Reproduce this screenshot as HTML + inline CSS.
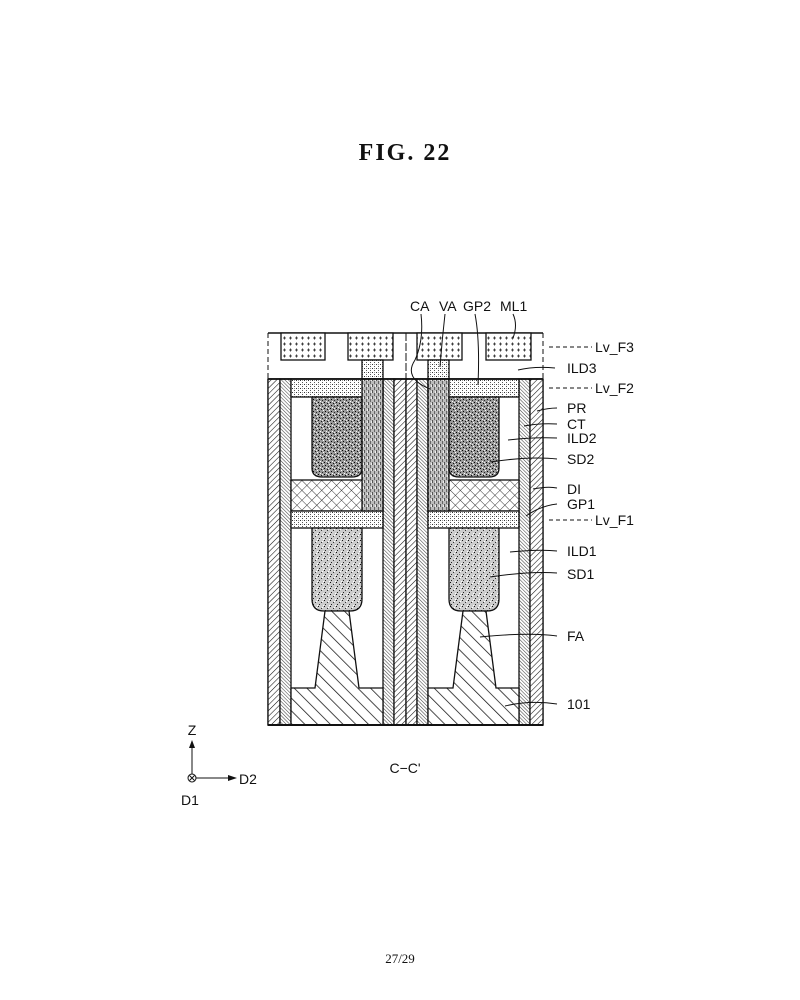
<!DOCTYPE html>
<html><head><meta charset="utf-8"><style>
html,body{margin:0;padding:0;background:#fff}
svg{display:block}
text{font-family:"Liberation Sans",sans-serif;font-size:14px;fill:#111}
</style></head><body>
<svg width="800" height="1000" viewBox="0 0 800 1000" xmlns="http://www.w3.org/2000/svg">
<defs>
<pattern id="hatch" width="4" height="4" patternUnits="userSpaceOnUse" patternTransform="rotate(45)"><rect width="4" height="4" fill="#fff"/><line x1="0" y1="0" x2="0" y2="4" stroke="#111" stroke-width="1.1"/></pattern>
<pattern id="fine" width="2.5" height="2.5" patternUnits="userSpaceOnUse" patternTransform="rotate(-45)"><rect width="3" height="3" fill="#fff"/><line x1="0" y1="0" x2="0" y2="3" stroke="#444" stroke-width="1.1"/></pattern>
<pattern id="big" width="9" height="9" patternUnits="userSpaceOnUse" patternTransform="rotate(-45)"><rect width="9" height="9" fill="#fff"/><line x1="0" y1="0" x2="0" y2="9" stroke="#111" stroke-width="1.5"/></pattern>
<pattern id="cross" width="7" height="7" patternUnits="userSpaceOnUse" patternTransform="rotate(45)"><rect width="7" height="7" fill="#fff"/><line x1="0" y1="0" x2="0" y2="7" stroke="#222" stroke-width="0.9"/><line x1="0" y1="0" x2="7" y2="0" stroke="#222" stroke-width="0.9"/></pattern>
<pattern id="dots" width="4" height="4" patternUnits="userSpaceOnUse"><rect width="4" height="4" fill="#fff"/><rect x="0" y="0" width="1" height="1" fill="#333"/><rect x="2" y="2" width="1" height="1" fill="#555"/><rect x="2" y="0" width="1" height="1" fill="#999"/></pattern>
<pattern id="plus" width="6" height="6" patternUnits="userSpaceOnUse"><rect width="6" height="6" fill="#fff"/><path d="M1 2h3M2.5 0.5v3" stroke="#222" stroke-width="0.8"/></pattern>
<pattern id="stip" width="6" height="6" patternUnits="userSpaceOnUse"><rect width="6" height="6" fill="#999"/><rect x="0" y="0" width="1" height="1" fill="#000"/><rect x="3" y="1" width="1" height="1" fill="#111"/><rect x="1" y="3" width="1" height="1" fill="#000"/><rect x="4" y="4" width="1" height="1" fill="#222"/><rect x="5" y="2" width="1" height="1" fill="#fff"/><rect x="2" y="5" width="1" height="1" fill="#fff"/><rect x="4" y="0" width="1" height="1" fill="#eee"/></pattern>
<pattern id="stip2" width="6" height="6" patternUnits="userSpaceOnUse"><rect width="6" height="6" fill="#ccc"/><rect x="0" y="0" width="1" height="1" fill="#111"/><rect x="3" y="2" width="1" height="1" fill="#333"/><rect x="1" y="4" width="1" height="1" fill="#222"/><rect x="5" y="5" width="1" height="1" fill="#fff"/><rect x="4" y="1" width="1" height="1" fill="#fff"/></pattern>
<pattern id="via" width="4" height="6" patternUnits="userSpaceOnUse"><rect width="4" height="6" fill="#bbb"/><rect x="0" y="0" width="1" height="3" fill="#555"/><rect x="2" y="3" width="1" height="3" fill="#666"/><rect x="3" y="1" width="1" height="2" fill="#eee"/></pattern>
</defs>

<text x="405" y="160" text-anchor="middle" style="font-family:'Liberation Serif',serif;font-weight:bold;font-size:24px;letter-spacing:2px">FIG.  22</text>

<rect x="268" y="333" width="275" height="46" fill="#fff"/>
<line x1="268" y1="333" x2="543" y2="333" stroke="#111" stroke-width="1.5"/>
<line x1="268" y1="333" x2="268" y2="379" stroke="#111" stroke-dasharray="5,3"/>
<line x1="543" y1="333" x2="543" y2="379" stroke="#111" stroke-dasharray="5,3"/>
<line x1="406" y1="333" x2="406" y2="379" stroke="#111" stroke-dasharray="8,2"/>
<g stroke="#111" stroke-width="1.3">
<rect x="281" y="333" width="44" height="27" fill="url(#plus)"/>
<rect x="348" y="333" width="45" height="27" fill="url(#plus)"/>
<rect x="417" y="333" width="45" height="27" fill="url(#plus)"/>
<rect x="486" y="333" width="45" height="27" fill="url(#plus)"/>
<rect x="362" y="360" width="21" height="19" fill="url(#dots)"/>
<rect x="428" y="360" width="21" height="19" fill="url(#dots)"/>
</g>

<g stroke="#111" stroke-width="1.3">
<rect x="268" y="379" width="275" height="346" fill="#fff"/>
<rect x="268" y="379" width="12" height="346" fill="url(#hatch)"/>
<rect x="280" y="379" width="11" height="346" fill="url(#fine)"/>
<rect x="383" y="379" width="11" height="346" fill="url(#fine)"/>
<rect x="394" y="379" width="12" height="346" fill="url(#hatch)"/>
<rect x="406" y="379" width="11" height="346" fill="url(#hatch)"/>
<rect x="417" y="379" width="11" height="346" fill="url(#fine)"/>
<rect x="519" y="379" width="11" height="346" fill="url(#fine)"/>
<rect x="530" y="379" width="13" height="346" fill="url(#hatch)"/>

<rect x="291" y="379" width="92" height="18" fill="url(#dots)"/>
<rect x="428" y="379" width="91" height="18" fill="url(#dots)"/>
<rect x="291" y="480" width="92" height="31" fill="url(#cross)"/>
<rect x="428" y="480" width="91" height="31" fill="url(#cross)"/>
<rect x="291" y="511" width="92" height="17" fill="url(#dots)"/>
<rect x="428" y="511" width="91" height="17" fill="url(#dots)"/>

<path d="M312 397 H362 V468 Q362 477 352 477 H322 Q312 477 312 468 Z" fill="url(#stip)"/>
<path d="M449 397 H499 V468 Q499 477 489 477 H459 Q449 477 449 468 Z" fill="url(#stip)"/>
<path d="M312 528 H362 V599 Q362 611 350 611 H324 Q312 611 312 599 Z" fill="url(#stip2)"/>
<path d="M449 528 H499 V599 Q499 611 487 611 H461 Q449 611 449 599 Z" fill="url(#stip2)"/>

<path d="M291 688 H315 L325 611 H349 L359 688 H383 V725 H291 Z" fill="url(#big)"/>
<path d="M428 688 H453 L463 611 H486 L496 688 H519 V725 H428 Z" fill="url(#big)"/>

<rect x="362" y="379" width="21" height="132" fill="url(#via)"/>
<rect x="428" y="379" width="21" height="132" fill="url(#via)"/>
</g>
<line x1="268" y1="379" x2="543" y2="379" stroke="#111" stroke-width="1.8"/>
<line x1="268" y1="725" x2="543" y2="725" stroke="#111" stroke-width="2"/>

<text x="410" y="311">CA</text><text x="439" y="311">VA</text><text x="463" y="311">GP2</text><text x="500" y="311">ML1</text>
<g fill="none" stroke="#111" stroke-width="1">
<path d="M421 314 Q424 340 415 360 Q403 378 430 389"/>
<path d="M445 314 Q442 340 440 367"/>
<path d="M475 314 Q480 340 478 385"/>
<path d="M513 314 Q518 325 513 338"/>
<path d="M518 370 Q535 366 555 368"/>
<path d="M537 411 Q548 408 557 408"/>
<path d="M524 426 Q540 423 557 424"/>
<path d="M508 440 Q535 437 557 438"/>
<path d="M490 462 Q530 456 557 459"/>
<path d="M533 489 Q548 486 557 488"/>
<path d="M526 516 Q540 506 557 504"/>
<path d="M510 552 Q540 549 557 551"/>
<path d="M490 577 Q530 571 557 573"/>
<path d="M480 637 Q530 632 557 636"/>
<path d="M505 706 Q530 700 557 704"/>
</g>
<g stroke="#111" stroke-dasharray="4,3">
<line x1="549" y1="347" x2="592" y2="347"/>
<line x1="549" y1="388" x2="592" y2="388"/>
<line x1="549" y1="520" x2="592" y2="520"/>
</g>
<text x="595" y="352">Lv_F3</text>
<text x="567" y="373">ILD3</text>
<text x="595" y="393">Lv_F2</text>
<text x="567" y="413">PR</text>
<text x="567" y="429">CT</text>
<text x="567" y="443">ILD2</text>
<text x="567" y="464">SD2</text>
<text x="567" y="494">DI</text>
<text x="567" y="509">GP1</text>
<text x="595" y="525">Lv_F1</text>
<text x="567" y="556">ILD1</text>
<text x="567" y="579">SD1</text>
<text x="567" y="641">FA</text>
<text x="567" y="709">101</text>

<text x="405" y="773" text-anchor="middle">C−C'</text>

<line x1="192" y1="778" x2="192" y2="746" stroke="#111"/>
<path d="M189 748 L192 740 L195 748 Z" fill="#111"/>
<line x1="192" y1="778" x2="228" y2="778" stroke="#111"/>
<path d="M228 775 L237 778 L228 781 Z" fill="#111"/>
<circle cx="192" cy="778" r="4" fill="#fff" stroke="#111"/>
<path d="M189.5 775.5 L194.5 780.5 M194.5 775.5 L189.5 780.5" stroke="#111"/>
<text x="192" y="735" text-anchor="middle">Z</text>
<text x="239" y="784">D2</text>
<text x="190" y="805" text-anchor="middle">D1</text>

<text x="400" y="963" text-anchor="middle" style="font-family:'Liberation Serif',serif;font-size:13px">27/29</text>
</svg>
</body></html>
